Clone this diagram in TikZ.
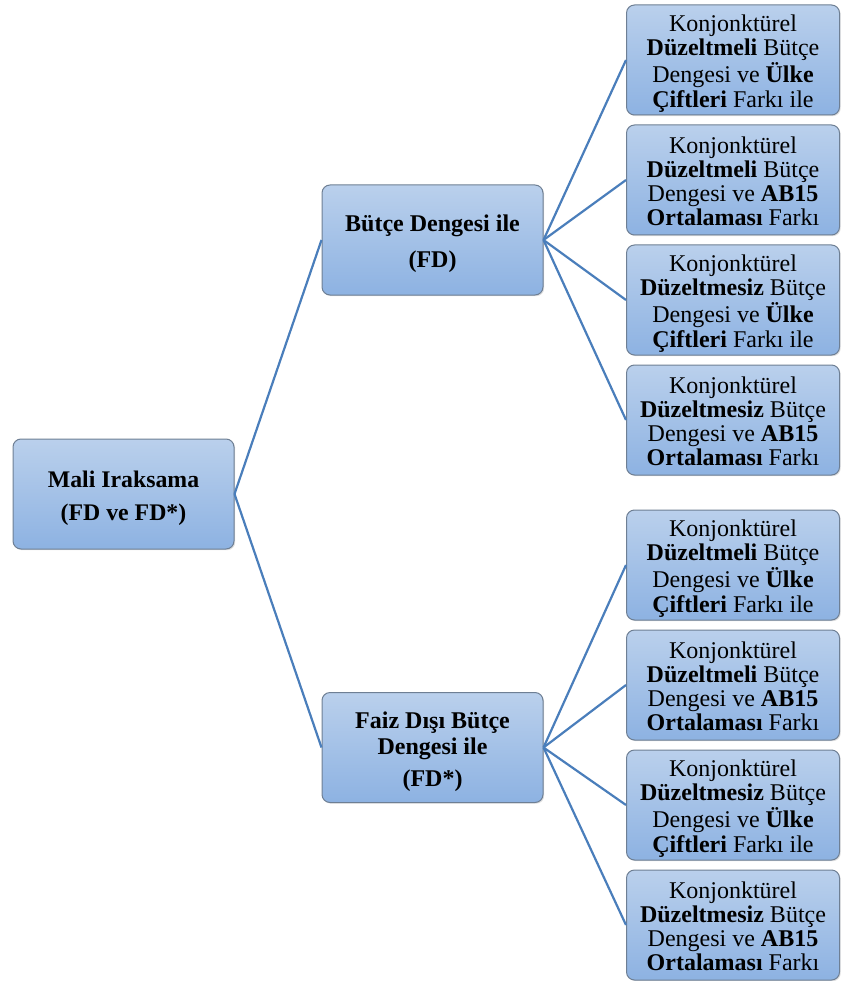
\documentclass[tikz,border=0pt]{standalone}
\usepackage{fontspec}
\setmainfont{Liberation Serif}
\usetikzlibrary{shadows}
\definecolor{boxtop}{HTML}{BAD0EC}
\definecolor{boxbot}{HTML}{8DB2E2}
\definecolor{boxline}{HTML}{6E7F94}
\definecolor{conn}{HTML}{4A7EBB}
\newcommand{\boxlines}[1]{\raisebox{-4.5pt}[\height][\depth]{\begin{tabular}{@{}c@{}}#1\end{tabular}}}
\tikzset{
  basebox/.style={draw=boxline, line width=1pt, rounded corners=8pt,
    top color=boxtop, bottom color=boxbot, inner sep=0pt,
    drop shadow={opacity=0.25, shadow xshift=1.2pt, shadow yshift=-1.2pt}},
  rootbox/.style={basebox, minimum width=221pt, minimum height=110pt,
    font=\fontsize{23.8}{27}\selectfont\bfseries},
  midbox/.style={basebox, minimum width=221pt, minimum height=110pt,
    font=\fontsize{24}{27}\selectfont\bfseries},
  leafbox/.style={basebox, minimum width=213pt, minimum height=110pt,
    font=\fontsize{24}{24.2}\selectfont},
  link/.style={draw=conn, line width=2.2pt}
}
\begin{document}
\begin{tikzpicture}[x=1pt,y=-1pt]
\useasboundingbox (0,0) rectangle (841,981);
\node[rootbox] (root) at (123.5,494) {\boxlines{Mali Iraksama\\[6pt](FD ve FD*)}};
\node[midbox] (m1) at (432.5,240) {\boxlines{Bütçe Dengesi ile\\[9pt](FD)}};
\node[midbox] (m2) at (432.5,747.5) {\boxlines{Faiz Dışı Bütçe\\[-1pt]Dengesi ile\\[5pt](FD*)}};
\node[leafbox] (l1) at (733,60) {\boxlines{Konjonktürel\\\textbf{Düzeltmeli} Bütçe\\Dengesi ve \textbf{Ülke}\\\textbf{Çiftleri} Farkı ile}};
\node[leafbox] (l2) at (733,180) {\boxlines{Konjonktürel\\\textbf{Düzeltmeli} Bütçe\\Dengesi ve \textbf{AB15}\\\textbf{Ortalaması} Farkı}};
\node[leafbox] (l3) at (733,300) {\boxlines{Konjonktürel\\\textbf{Düzeltmesiz} Bütçe\\Dengesi ve \textbf{Ülke}\\\textbf{Çiftleri} Farkı ile}};
\node[leafbox] (l4) at (733,420) {\boxlines{Konjonktürel\\\textbf{Düzeltmesiz} Bütçe\\Dengesi ve \textbf{AB15}\\\textbf{Ortalaması} Farkı}};
\node[leafbox] (l5) at (733,565) {\boxlines{Konjonktürel\\\textbf{Düzeltmeli} Bütçe\\Dengesi ve \textbf{Ülke}\\\textbf{Çiftleri} Farkı ile}};
\node[leafbox] (l6) at (733,685) {\boxlines{Konjonktürel\\\textbf{Düzeltmeli} Bütçe\\Dengesi ve \textbf{AB15}\\\textbf{Ortalaması} Farkı}};
\node[leafbox] (l7) at (733,805) {\boxlines{Konjonktürel\\\textbf{Düzeltmesiz} Bütçe\\Dengesi ve \textbf{Ülke}\\\textbf{Çiftleri} Farkı ile}};
\node[leafbox] (l8) at (733,925) {\boxlines{Konjonktürel\\\textbf{Düzeltmesiz} Bütçe\\Dengesi ve \textbf{AB15}\\\textbf{Ortalaması} Farkı}};
\draw[link] (root.east) -- (m1.west);
\draw[link] (root.east) -- (m2.west);
\foreach \l in {l1,l2,l3,l4} \draw[link] (m1.east) -- (\l.west);
\foreach \l in {l5,l6,l7,l8} \draw[link] (m2.east) -- (\l.west);
\end{tikzpicture}
\end{document}
